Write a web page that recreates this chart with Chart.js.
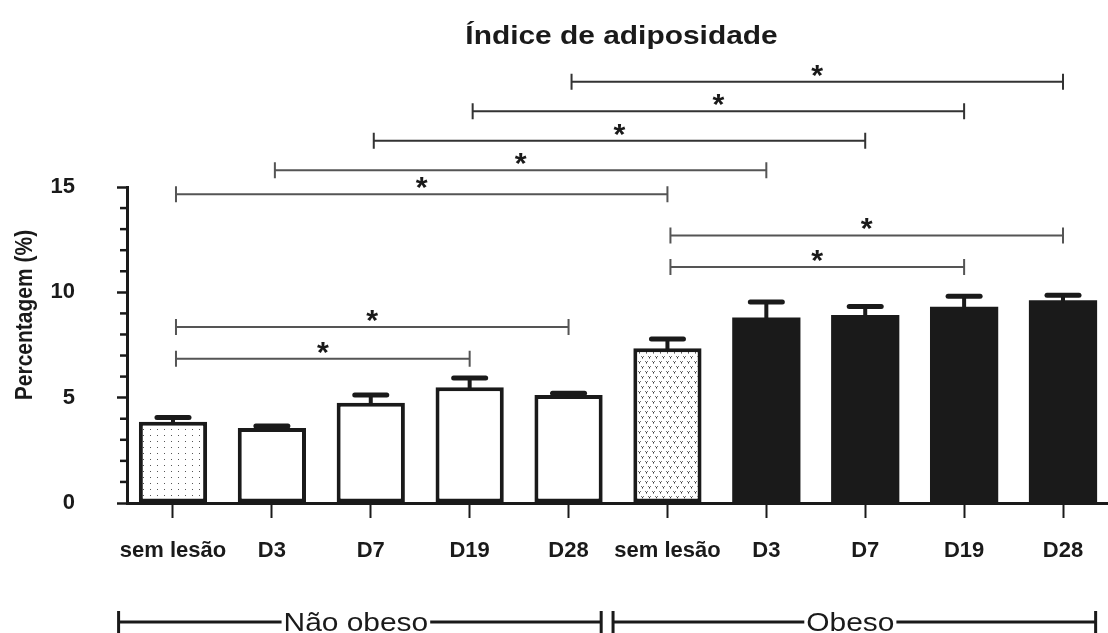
<!DOCTYPE html>
<html>
<head>
<meta charset="utf-8">
<script src="https://cdn.jsdelivr.net/npm/chart.js@4"></script>
<style>
  html, body { margin: 0; padding: 0; background: #fff; }
  #wrap { width: 1108px; height: 633px; position: relative; }
</style>
</head>
<body>
<div id="wrap"><canvas id="chart"></canvas></div>
<script>
// values
const categories = ['sem lesão', 'D3', 'D7', 'D19', 'D28', 'sem lesão', 'D3', 'D7', 'D19', 'D28'];
const means = [3.86, 3.56, 4.76, 5.49, 5.13, 7.34, 8.81, 8.92, 9.32, 9.63];
const sem = [0.2, 0.1, 0.37, 0.44, 0.08, 0.44, 0.73, 0.41, 0.49, 0.23];
const yTicks = [0, 5, 10, 15];

const groups = ['Não obeso', 'Obeso'];
const groupFirst = [0, 5];
const groupLast = [4, 9];

// significance pairs (index from, index to) and their heights in %
const sigFrom = [0, 0, 0, 1, 2, 3, 4, 5, 5];
const sigTo = [3, 4, 5, 6, 7, 8, 9, 8, 9];
const sigLevel = [6.85, 8.35, 14.65, 15.8, 17.2, 18.6, 20.0, 11.2, 12.7];

const titleText = 'Índice de adiposidade';
const yTitle = 'Percentagem (%)';

const FONT = "'Liberation Sans', Arial, sans-serif";
const INK = '#1a1a1a';
const STRETCH = 1.15;

// fill patterns
function dotPattern() {
    const c = document.createElement('canvas');
    c.width = 7; c.height = 6;
    const g = c.getContext('2d');
    g.fillStyle = '#fff';
    g.fillRect(0, 0, 7, 6);
    g.fillStyle = '#555';
    g.fillRect(3, 3, 1, 1);
    return g.createPattern(c, 'repeat');
}

function vPattern() {
    const c = document.createElement('canvas');
    c.width = 7; c.height = 10;
    const g = c.getContext('2d');
    g.fillStyle = '#fff';
    g.fillRect(0, 0, 7, 10);
    [[1, 1], [4, 6]].forEach(([x, y]) => {
        g.fillStyle = '#777';
        g.fillRect(x, y, 1, 1);
        g.fillRect(x + 2, y, 1, 1);
        g.fillStyle = '#333';
        g.fillRect(x + 1, y + 1, 1, 1);
        g.fillStyle = '#999';
        g.fillRect(x + 1, y + 2, 1, 1);
    });
    return g.createPattern(c, 'repeat');
}

const fills = [dotPattern(), '#fff', '#fff', '#fff', '#fff', vPattern(), INK, INK, INK, INK];

function stretchText(ctx, text, x, y, font, sx) {
    ctx.save();
    ctx.font = font;
    ctx.translate(x, y);
    ctx.scale(sx, 1);
    ctx.fillText(text, 0, 0);
    ctx.restore();
}

const errorBars = {
    id: 'errorBars',
    afterDatasetsDraw(chart) {
        const ctx = chart.ctx;
        const y = chart.scales.y;
        const meta = chart.getDatasetMeta(0);
        ctx.save();
        ctx.strokeStyle = INK;
        ctx.lineCap = 'round';
        meta.data.forEach((bar, i) => {
            const top = y.getPixelForValue(means[i] + sem[i]);
            ctx.lineWidth = 4;
            ctx.beginPath();
            ctx.moveTo(bar.x, bar.y);
            ctx.lineTo(bar.x, top);
            ctx.stroke();
            ctx.lineWidth = 5;
            ctx.beginPath();
            ctx.moveTo(bar.x - 16, top);
            ctx.lineTo(bar.x + 16, top);
            ctx.stroke();
        });
        ctx.restore();
    }
};

const extras = {
    id: 'extras',
    afterDraw(chart) {
        const ctx = chart.ctx;
        const xs = chart.scales.x;
        const ys = chart.scales.y;
        const area = chart.chartArea;
        ctx.save();

        // minor ticks on y
        ctx.strokeStyle = INK;
        ctx.lineWidth = 2.5;
        ys.ticks.forEach(t => {
            if (yTicks.includes(t.value)) return;
            const py = ys.getPixelForValue(t.value);
            ctx.beginPath();
            ctx.moveTo(area.left - 7, py);
            ctx.lineTo(area.left, py);
            ctx.stroke();
        });

        // title
        ctx.fillStyle = INK;
        ctx.textAlign = 'center';
        ctx.textBaseline = 'alphabetic';
        stretchText(ctx, titleText, (area.left + area.right) / 2 + 4, 44, 'bold 26px ' + FONT, STRETCH);

        // y title
        ctx.save();
        ctx.translate(32, 315);
        ctx.rotate(-Math.PI / 2);
        ctx.scale(1, STRETCH);
        ctx.font = 'bold 21px ' + FONT;
        ctx.textAlign = 'center';
        ctx.textBaseline = 'alphabetic';
        ctx.fillText(yTitle, 0, 0);
        ctx.restore();

        // significance brackets
        const starFont = 'bold 29px ' + FONT;
        ctx.font = starFont;
        const m = ctx.measureText('*');
        const glyphMid = (m.actualBoundingBoxAscent - m.actualBoundingBoxDescent) / 2;
        sigFrom.forEach((a, k) => {
            const x1 = xs.getPixelForValue(a) + 3;
            const x2 = xs.getPixelForValue(sigTo[k]);
            const py = ys.getPixelForValue(sigLevel[k]);
            ctx.strokeStyle = k >= 4 && k <= 6 ? '#333' : '#555';
            ctx.lineWidth = 2;
            ctx.beginPath();
            ctx.moveTo(x1, py);
            ctx.lineTo(x2, py);
            ctx.moveTo(x1, py - 8);
            ctx.lineTo(x1, py + 8);
            ctx.moveTo(x2, py - 8);
            ctx.lineTo(x2, py + 8);
            ctx.stroke();
            ctx.fillStyle = INK;
            ctx.textAlign = 'center';
            ctx.textBaseline = 'alphabetic';
            stretchText(ctx, '*', (x1 + x2) / 2, py - 11 + glyphMid, starFont, 1.05);
        });

        // group brackets
        const gy = 622;
        const gFont = '26px ' + FONT;
        groups.forEach((label, g) => {
            const x1 = xs.getPixelForValue(groupFirst[g] - 0.55);
            const x2 = xs.getPixelForValue(groupLast[g] + 0.33);
            const cx = (x1 + x2) / 2 - 4;
            ctx.font = gFont;
            const w = ctx.measureText(label).width * STRETCH;
            ctx.strokeStyle = INK;
            ctx.lineWidth = 3;
            ctx.beginPath();
            ctx.moveTo(x1, gy);
            ctx.lineTo(cx - w / 2 - 2, gy);
            ctx.moveTo(cx + w / 2 + 2, gy);
            ctx.lineTo(x2, gy);
            ctx.moveTo(x1, gy - 11);
            ctx.lineTo(x1, gy + 11);
            ctx.moveTo(x2, gy - 11);
            ctx.lineTo(x2, gy + 11);
            ctx.stroke();
            ctx.fillStyle = INK;
            ctx.textAlign = 'center';
            ctx.textBaseline = 'alphabetic';
            stretchText(ctx, label, cx, gy + 9, gFont, STRETCH);
        });

        ctx.restore();
    }
};

new Chart(document.getElementById('chart'), {
    type: 'bar',
    data: {
        datasets: [{
            data: means.map((v, i) => ({ x: i, y: v })),
            backgroundColor: fills,
            borderColor: INK,
            borderWidth: c => (c.dataIndex >= 6 ? 0 : 4),
            borderSkipped: false,
            barPercentage: 0.69,
            categoryPercentage: 1
        }]
    },
    options: {
        responsive: true,
        maintainAspectRatio: false,
        animation: false,
        layout: { padding: { top: 187, left: 0, right: 0, bottom: 0 } },
        plugins: {
            legend: { display: false },
            tooltip: { enabled: false },
            title: { display: false }
        },
        scales: {
            x: {
                type: 'linear',
                offset: false,
                min: -0.465,
                max: 9.455,
                afterBuildTicks: s => { s.ticks = categories.map((c, i) => ({ value: i })); },
                afterFit: s => { s.height = 130; },
                ticks: {
                    autoSkip: false,
                    maxRotation: 0,
                    padding: 20,
                    color: INK,
                    font: { family: FONT, size: 22, weight: 'bold' },
                    callback: v => categories[v]
                },
                grid: { display: true, offset: false, drawOnChartArea: false, tickLength: 15, tickWidth: 2, tickColor: INK },
                border: { display: true, color: INK, width: 3 }
            },
            y: {
                min: 0,
                max: 15,
                afterFit: s => { s.width = 127; },
                ticks: {
                    autoSkip: false,
                    stepSize: 1,
                    padding: 42,
                    color: INK,
                    font: { family: FONT, size: 22, weight: 'bold' },
                    callback: v => yTicks.includes(v) ? String(v) : ''
                },
                grid: {
                    display: true,
                    drawOnChartArea: false,
                    tickLength: 10,
                    tickWidth: 2.5,
                    tickColor: c => yTicks.includes(c.tick.value) ? INK : 'rgba(0,0,0,0)'
                },
                border: { display: true, color: INK, width: 3 }
            }
        }
    },
    plugins: [errorBars, extras]
});
</script>
</body>
</html>
